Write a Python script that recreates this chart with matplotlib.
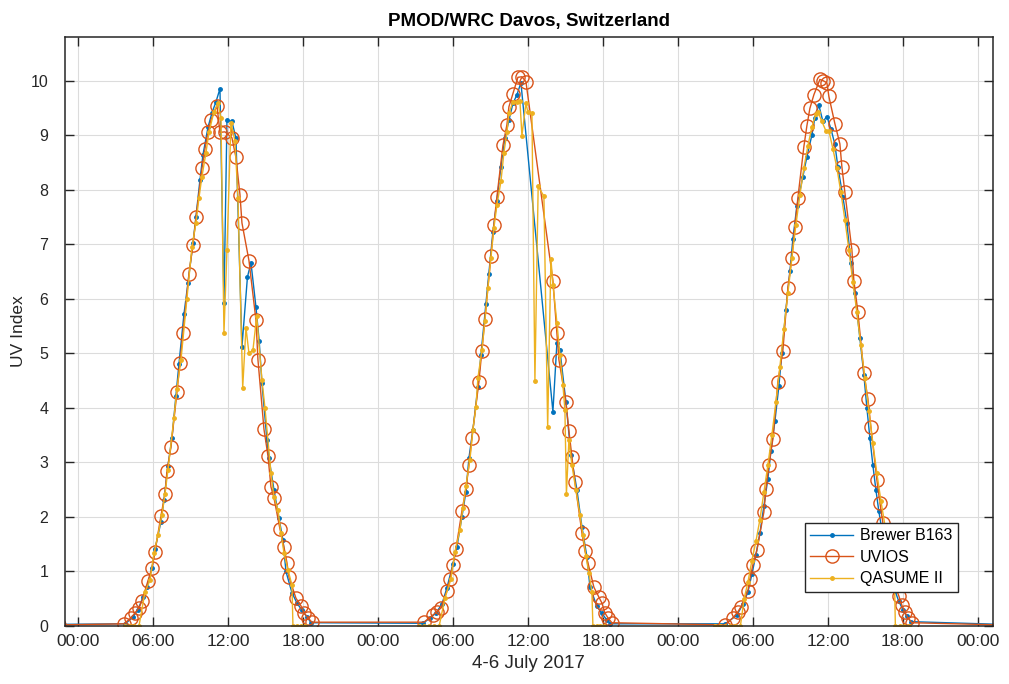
import numpy as np
import matplotlib
matplotlib.use('Agg')
import matplotlib.pyplot as plt

nan = np.nan

# UV index, hours counted from 4 July 2017 00:00
brewer_t = [-1.5, 3.8, 4.4, 4.8, 5.2, 5.52, 5.92, 6.16, 6.64, 6.88, 7.2, 7.52, 7.84, 8.08, 8.48, 8.8,
            9.2, 9.44, 9.76, 10.0, 10.4, 10.72, 11.04, 11.36, 11.68, 11.92, 12.32, 12.64, 13.12, 13.56,
            13.84, 14.24, 14.5, 14.72, 15.12, 15.28, 15.68, 16.08, 16.4, 16.64, 17.12, 17.52, 17.92,
            18.32, 18.64,
            27.6, 28.2, 28.64, 29.12, 29.52, 30.0, 30.32, 30.72, 31.04, 31.28, 31.6, 32.0, 32.24, 32.64,
            32.88, 33.2, 33.52, 33.84, 34.16, 34.48, 34.8, 35.12, 35.44, 38.0, 38.32, 38.56, 39.04,
            39.44, 39.92, 40.32, 40.72, 40.96, 41.52, 41.92, 42.32, 42.6,
            51.8, 52.72, 53.2, 53.6, 53.92, 54.24, 54.56, 54.88, 55.2, 55.44, 55.76, 56.08, 56.32,
            56.64, 56.96, 57.2, 57.52, 58.0, 58.32, 58.72, 58.96, 59.28, 59.6, 59.92, 60.24, 60.56,
            60.8, 61.2, 61.52, 61.84, 62.16, 62.56, 62.88, 63.12, 63.36, 63.6, 63.84, 64.08, 64.4,
            64.72, 65.04, 65.36, 65.68, 66.0, 66.32, 66.64, 73.8]
brewer_uv = [0.03, 0.04, 0.17, 0.3, 0.53, 0.72, 1.06, 1.41, 1.91, 2.31, 2.94, 3.45, 4.22, 4.81, 5.72, 6.29,
             7.02, 7.5, 8.18, 8.64, 9.14, 9.41, 9.61, 9.85, 5.93, 9.27, 9.25, 8.94, 5.12, 6.4,
             6.66, 5.85, 5.22, 4.45, 3.41, 3.08, 2.5, 1.98, 1.58, 1.0, 0.61, 0.42, 0.29,
             0.17, 0.06,
             0.05, 0.15, 0.24, 0.4, 0.7, 1.14, 1.45, 2.0, 2.46, 3.08, 3.6, 4.39, 4.97, 5.91,
             6.46, 7.23, 7.8, 8.42, 8.95, 9.27, 9.58, 9.74, 9.96, 3.93, 5.19, 5.06, 4.11,
             3.14, 2.5, 1.82, 1.27, 0.72, 0.36, 0.23, 0.11, 0.04,
             0.04, 0.2, 0.4, 0.62, 0.95, 1.3, 1.7, 2.2, 2.7, 3.2, 3.75, 4.4, 5.0,
             5.8, 6.5, 7.1, 7.7, 8.24, 8.6, 9.0, 9.32, 9.55, 9.25, 9.34, 9.12, 8.83,
             8.42, 7.87, 7.39, 6.66, 6.1, 5.28, 4.6, 4.0, 3.45, 2.95, 2.5, 2.1, 1.65,
             1.25, 0.9, 0.65, 0.45, 0.3, 0.18, 0.08, 0.03]

uvios_t = [-1.5, 3.68, 4.24, 4.56, 4.88, 5.12, 5.6, 5.92, 6.16, 6.64, 6.96, 7.12, 7.44, 7.92, 8.16, 8.4,
           8.88, 9.2, 9.44, 9.92, 10.16, 10.4, 10.64, 11.12, 11.36, 11.76, 12.32, 12.64, 12.96, 13.12,
           13.68, 14.24, 14.4, 14.88, 15.2, 15.44, 15.68, 16.16, 16.48, 16.72, 16.88, 17.44, 17.84,
           18.08, 18.4, 18.72,
           27.68, 28.4, 28.72, 29.04, 29.52, 29.76, 30.0, 30.24, 30.72, 31.04, 31.28, 31.52, 32.08,
           32.32, 32.56, 33.04, 33.28, 33.52, 34.0, 34.32, 34.48, 34.8, 35.2, 35.52, 35.84, 38.0,
           38.32, 38.48, 39.04, 39.28, 39.52, 39.76, 40.32, 40.56, 40.8, 41.28, 41.68, 41.92, 42.16,
           42.4, 42.72,
           51.76, 52.4, 52.8, 53.04, 53.6, 53.76, 54.0, 54.32, 54.88, 55.04, 55.28, 55.6, 56.0,
           56.4, 56.8, 57.12, 57.36, 57.6, 58.08, 58.32, 58.56, 58.88, 59.36, 59.6, 59.92, 60.08,
           60.56, 60.96, 61.12, 61.36, 61.92, 62.08, 62.4, 62.88, 63.2, 63.44, 63.92, 64.16, 64.4,
           64.64, 64.96, 65.28, 65.68, 65.92, 66.16, 66.4, 66.72, 73.8]
uvios_uv = [0.02, 0.04, 0.15, 0.24, 0.33, 0.46, 0.83, 1.06, 1.36, 2.02, 2.42, 2.84, 3.28, 4.29, 4.83, 5.38,
            6.46, 6.99, 7.49, 8.39, 8.75, 9.05, 9.28, 9.54, 9.05, 9.06, 8.95, 8.59, 7.91, 7.39,
            6.7, 5.61, 4.88, 3.61, 3.12, 2.55, 2.35, 1.78, 1.45, 1.16, 0.9, 0.51, 0.37,
            0.24, 0.15, 0.07,
            0.07, 0.2, 0.26, 0.33, 0.64, 0.86, 1.12, 1.41, 2.11, 2.51, 2.95, 3.45, 4.48,
            5.05, 5.63, 6.79, 7.36, 7.87, 8.81, 9.19, 9.52, 9.76, 10.06, 10.07, 9.98, 6.33,
            5.38, 4.88, 4.11, 3.58, 3.1, 2.64, 1.71, 1.38, 1.16, 0.71, 0.53, 0.42, 0.24,
            0.15, 0.06,
            0.02, 0.15, 0.26, 0.35, 0.64, 0.86, 1.12, 1.39, 2.09, 2.51, 2.95, 3.43, 4.48,
            5.05, 6.2, 6.75, 7.32, 7.85, 8.79, 9.17, 9.49, 9.74, 10.02, 10.0, 9.96, 9.71,
            9.21, 8.84, 8.42, 7.95, 6.9, 6.33, 5.76, 4.64, 4.17, 3.65, 2.68, 2.26, 1.89,
            1.5, 1.1, 0.8, 0.55, 0.38, 0.25, 0.15, 0.06, 0.02]

qasume_t = [3.8, 4.16, 4.52, 4.88, 5.36, 5.76, 6.08, 6.4, 6.72, 6.96, 7.2, 7.68, 7.92, 8.24, 8.72, 9.12,
            9.44, 9.68, 9.92, 10.24, 10.48, 10.88, 11.2, 11.44, 11.68, 11.92, 12.24, 12.56, 12.8, 13.18,
            13.44, 13.68, 14.0, 14.3, 14.72, 14.96, 15.44, 15.68, 16.0, 16.24, 16.48, 16.8, 17.12,
            17.2, 17.52, 17.84, 18.16, 22.0,
            27.3, 27.7, 28.1, 28.5, 28.9, 29.36, 29.84, 30.16, 30.56, 30.8, 31.04, 31.36, 31.6, 31.84,
            32.0, 32.32, 32.56, 32.8, 33.04, 33.28, 33.52, 33.84, 34.08, 34.32, 34.48, 34.8, 35.12,
            35.36, 35.52, 35.84, 36.0, 36.32, 36.56, 36.82, 37.28, 37.58, 37.84, 38.0, 38.32, 38.56,
            38.8, 38.96, 39.08, 39.28, 39.52, 39.84, 40.16, 40.4, 40.64, 40.88, 41.12, 41.2, 41.5,
            41.8, 42.1, 46.0,
            51.0, 51.4, 51.8, 52.2, 52.6, 53.0, 53.3, 53.6, 53.92, 54.24, 54.56, 54.88, 55.2, 55.52,
            55.84, 56.16, 56.48, 56.8, 57.12, 57.44, 57.76, 58.08, 58.4, 58.72, 59.04, 59.2, 59.52,
            59.84, 60.08, 60.4, 60.72, 61.04, 61.36, 61.68, 62.0, 62.32, 62.64, 62.96, 63.28, 63.6,
            63.92, 64.24, 64.56, 64.88, 65.2, 65.34, 65.4, 65.76, 66.12, 66.48]
qasume_uv = [0, 0, 0, 0, 0.62, 0.84, 1.33, 1.67, 2.04, 2.42, 2.86, 3.82, 4.35, 4.88, 6.0, 6.95,
             7.39, 7.85, 8.24, 8.68, 9.05, 9.43, 9.58, 9.32, 5.37, 6.89, 9.23, 8.89, 7.85, 4.37,
             5.47, 5.0, 5.06, 5.68, 4.51, 4.0, 2.81, 2.37, 2.13, 1.71, 1.34, 1.03, 0.75,
             0, 0, 0, 0, nan,
             0, 0, 0, 0, 0, 0.51, 0.86, 1.36, 1.76, 2.16, 2.57, 3.05, 3.6, 4.02,
             4.55, 5.06, 5.6, 6.2, 6.75, 7.3, 7.72, 8.15, 8.68, 9.05, 9.4, 9.61, 9.61,
             9.63, 8.99, 9.58, 9.42, 9.41, 4.49, 8.06, 7.88, 3.64, 6.73, 6.26, 5.56, 4.97,
             4.42, 3.96, 2.42, 3.41, 2.95, 2.5, 2.04, 1.67, 1.28, 0.97, 0.62, 0, 0,
             0, 0, nan,
             0, 0, 0, 0, 0, 0, 0.5, 0.8, 1.2, 1.55, 1.95, 2.45, 2.95, 3.5,
             4.1, 4.75, 5.45, 6.1, 6.75, 7.35, 7.9, 8.4, 8.8, 9.15, 9.38, 9.43, 9.25,
             9.08, 9.08, 8.75, 8.4, 7.95, 7.45, 6.9, 6.3, 5.75, 5.15, 4.55, 3.95, 3.35,
             2.8, 2.3, 1.85, 1.4, 1.0, 0.7, 0, 0, 0, 0]

tick_hours = list(range(0, 73, 6))
tick_labels = ['00:00', '06:00', '12:00', '18:00'] * 3 + ['00:00']

plt.rcParams['font.family'] = ['Liberation Sans', 'DejaVu Sans']
plt.rcParams['font.size'] = 11

fig = plt.figure(figsize=(10.09, 6.84), dpi=100)
ax = fig.add_axes([0.0644, 0.0848, 0.9196, 0.8612])

ax.plot(brewer_t, brewer_uv, color='#0072BD', lw=1.0, marker='.', ms=5, label='Brewer B163')
ax.plot(uvios_t, uvios_uv, color='#D95319', lw=1.0, marker='o', ms=9.5, mfc='none', mew=1.0,
        label='UVIOS')
ax.plot(qasume_t, qasume_uv, color='#EDB120', lw=1.0, marker='.', ms=5, label='QASUME II')

ax.set_xlim(-1.04, 73.2)
ax.set_ylim(0, 10.8)
ax.set_xticks(tick_hours)
ax.set_xticklabels(tick_labels)
ax.set_yticks(range(0, 11))

ax.grid(True, color='#dcdcdc', lw=0.8)
ax.set_axisbelow(True)
for s in ax.spines.values():
    s.set_color('#262626')
    s.set_linewidth(1.1)
ax.tick_params(direction='in', length=6.5, width=1.0, top=True, right=True,
               colors='#262626', labelsize=11.5)
ax.tick_params(axis='y', pad=12)
ax.tick_params(axis='x', labelsize=12.5, pad=6)

ax.set_title('PMOD/WRC Davos, Switzerland', fontsize=13.5, fontweight='bold', pad=8)
ax.set_xlabel('4-6 July 2017', fontsize=13.5, color='#262626', labelpad=4)
ax.set_ylabel('UV Index', fontsize=12.5, color='#262626', labelpad=3)

leg = ax.legend(loc='lower right', bbox_to_anchor=(0.962, 0.058), fontsize=11.5,
                fancybox=False, framealpha=1, edgecolor='#262626', borderpad=0.35,
                handlelength=2.7, handletextpad=0.4, labelspacing=0.4, borderaxespad=0)
leg.get_frame().set_linewidth(1.0)

fig.savefig('out.png', dpi=100)
